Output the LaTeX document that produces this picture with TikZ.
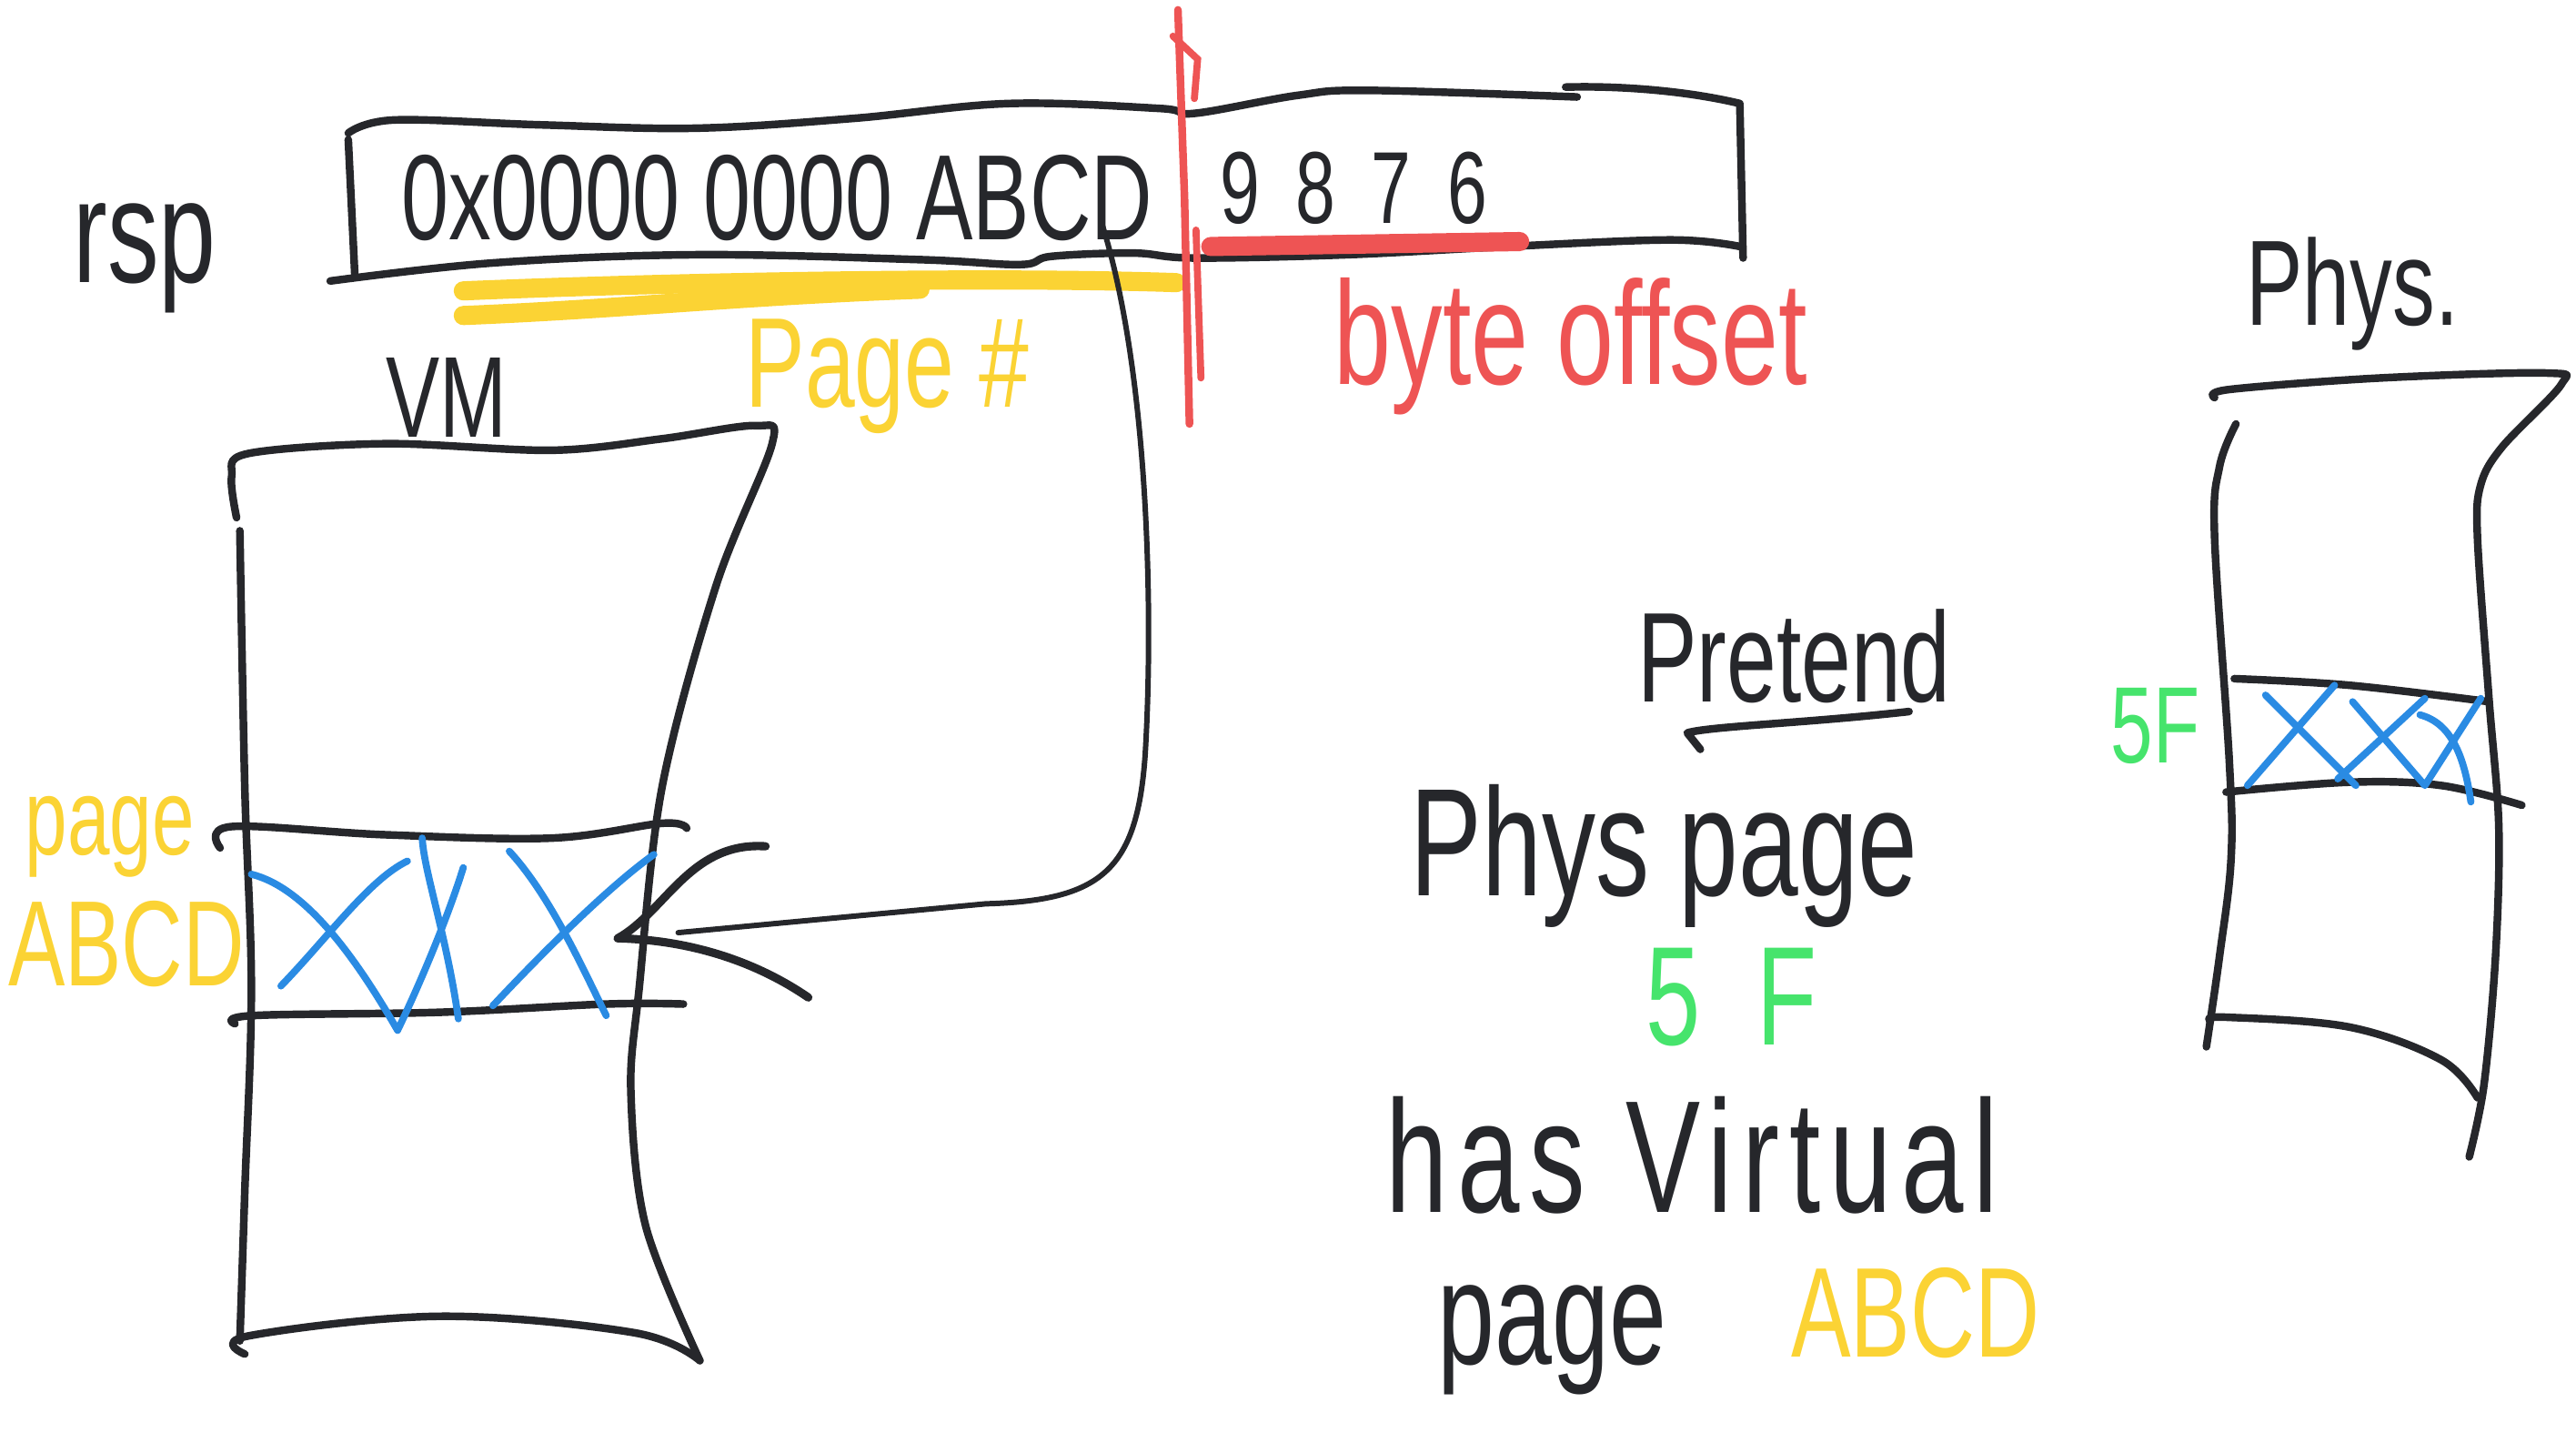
\documentclass[tikz,border=0pt]{standalone}
\usepackage{fontspec}
\usepackage{tikz}
\usetikzlibrary{arrows.meta,positioning}
\newfontfamily\handfont[FakeStretch=0.7]{Liberation Sans}
\definecolor{inkc}{HTML}{26272B}
\definecolor{hlyellow}{HTML}{FBD334}
\definecolor{hlred}{HTML}{EE5454}
\definecolor{xblue}{HTML}{2A8BE3}
\definecolor{pgreen}{HTML}{46E46C}

\begin{document}
\begin{tikzpicture}[x=0.018061cm,y=-0.018061cm,
  ink/.style={draw=inkc,line width=2.4pt,line cap=round,line join=round},
  xmark/.style={draw=xblue,line width=2.2pt,line cap=round,line join=round},
  marker/.style={line width=6pt,line cap=round},
  lbl/.style={inner sep=0pt,anchor=base,text=inkc,font=\handfont\fontsize{#1}{#1}\selectfont}]
\useasboundingbox (0,0) rectangle (1568,878);
% address register
\node[lbl=46] (rsp) at (88,172) {rsp};
\node[lbl=38] (addr) at (473,146) {0x0000 0000 ABCD};
\node[lbl=32,font=\handfont\fontsize{32}{32}\selectfont\addfontfeature{LetterSpace=35}] (offs) at (824,136) {9876};
\draw[ink] plot[smooth,tension=0.6] coordinates {(212,81) (240,73) (330,76) (424,78) (520,72) (614,63) (706,66) (727,69) (790,58) (833,55) (960,59)};
\draw[ink] (953,53) .. controls (990,52) and (1030,56) .. (1059,63) -- (1061,157);
\draw[ink] (212,85) -- (216,168);
\draw[ink] plot[smooth,tension=0.6] coordinates {(201,171) (300,160) (424,155) (560,158) (621,161) (640,156) (690,154) (727,157) (820,155) (918,150) (1017,146) (1059,150)};
\draw[hlred,marker] (737,150) -- (925,147);
\draw[hlyellow,marker] (282,177) .. controls (400,172) and (600,168) .. (716,172);
\draw[hlyellow,marker] (282,192) .. controls (380,188) and (450,180) .. (560,176);
\draw[hlred,line width=2.4pt,line cap=round] (717,6) -- (721,120) -- (724,258);
\draw[hlred,line width=2.2pt,line cap=round] (714,22) -- (729,36) -- (727,60);
\draw[hlred,line width=2.2pt,line cap=round] (728,140) -- (731,230);
\node[lbl=40,text=hlyellow] (pagenum) at (540,248) {Page \#};
\node[lbl=46,text=hlred] (byteoff) at (956,234) {byte offset};
% virtual memory
\node[lbl=36] (vm) at (272,266) {VM};
\draw[ink] plot[smooth,tension=0.55] coordinates {(144,315) (141,290) (151,276) (235,270) (336,274) (403,267) (460,259) (470,270) (436,356) (403,479) (389,602) (384,664) (393,746) (426,828)};
\draw[ink] plot[smooth,tension=0.6] coordinates {(426,828) (386,811) (268,801) (151,813) (149,824)};
\draw[ink] plot[smooth,tension=0.6] coordinates {(146,323) (149,479) (153,602) (149,725) (146,816)};
\draw[ink] plot[smooth,tension=0.6] coordinates {(134,516) (141,503) (235,508) (336,510) (403,501) (418,504)};
\draw[ink] plot[smooth,tension=0.6] coordinates {(143,623) (154,618) (268,616) (369,611) (416,611)};
\draw[xmark] (153,532) .. controls (185,540) and (215,580) .. (242,627) .. controls (255,600) and (272,560) .. (282,528);
\draw[xmark] (171,600) .. controls (200,570) and (225,535) .. (248,524);
\draw[xmark] (257,510) .. controls (258,530) and (272,570) .. (279,620);
\draw[xmark] (310,518) .. controls (335,545) and (355,590) .. (369,618);
\draw[xmark] (300,612) .. controls (330,580) and (370,540) .. (398,520);
\node[lbl=34,text=hlyellow] (pagel) at (67,520) {page};
\node[lbl=38,text=hlyellow] (abcdl) at (77,600) {ABCD};
% translation arrow
\coordinate (tap) at (671,137);
\coordinate (hit) at (376,571);
\draw[ink,line width=1.7pt,shorten >=19pt] (tap) .. controls (700,230) and (702,380) .. (697,460) .. controls (692,530) and (670,548) .. (600,550) -- (hit);
\draw[ink,line width=2.6pt] (466,515) .. controls (420,512) and (405,555) .. (hit) .. controls (420,572) and (460,585) .. (492,607);
% physical memory
\node[lbl=38] (phys) at (1432,198) {Phys.};
\draw[ink] plot[smooth,tension=0.55] coordinates {(1348,242) (1357,237) (1449,230) (1550,227) (1559,234) (1523,272) (1510,295) (1508,327) (1515,425) (1521,503) (1519,582) (1512,660) (1503,704)};
\draw[ink] plot[smooth,tension=0.6] coordinates {(1361,258) (1351,284) (1348,327) (1357,464) (1358,523) (1351,582) (1343,637)};
\draw[ink] plot[smooth,tension=0.6] coordinates {(1345,621) (1355,619) (1430,625) (1486,645) (1508,668)};
\draw[ink] plot[smooth,tension=0.6] coordinates {(1360,413) (1430,417) (1515,427)};
\draw[ink] plot[smooth,tension=0.6] coordinates {(1355,482) (1430,476) (1486,478) (1535,490)};
\draw[xmark] (1368,478) -- (1421,417);
\draw[xmark] (1379,423) -- (1434,478);
\draw[xmark] (1423,474) -- (1476,425);
\draw[xmark] (1432,427) -- (1476,478) -- (1510,425);
\draw[xmark] (1473,435) .. controls (1492,440) and (1500,460) .. (1504,488);
\node[lbl=34,text=pgreen] (fivefs) at (1312,464) {5F};
% note
\node[lbl=40] (pretend) at (1092,427) {Pretend};
\draw[ink] (1162,433) .. controls (1100,440) and (1040,442) .. (1027,446) -- (1035,456);
\node[lbl=48] (physpage) at (1013,545) {Phys page};
\node[lbl=44,text=pgreen,font=\handfont\fontsize{44}{44}\selectfont\addfontfeature{LetterSpace=40}] (fivefb) at (1054,636) {5F};
\node[lbl=50,font=\handfont\fontsize{50}{50}\selectfont\addfontfeature{LetterSpace=6}] (hasvirt) at (1030,738) {has Virtual};
\node[lbl=46] (pageb) at (945,830) {page};
\node[lbl=40,text=hlyellow] (abcdb) at (1166,826) {ABCD};
\end{tikzpicture}
\end{document}
